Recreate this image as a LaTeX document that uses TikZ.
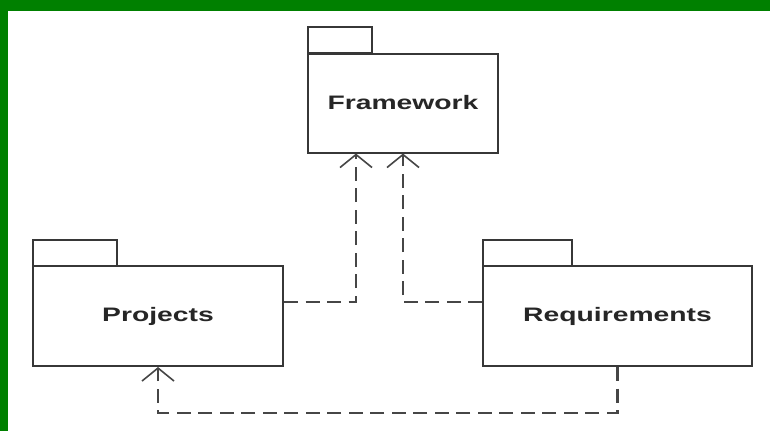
\documentclass[tikz,border=0pt]{standalone}
\usepackage{fontspec}
\usepackage{graphicx}
\setmainfont{Liberation Sans}
\usetikzlibrary{arrows.meta,calc}
\definecolor{framegreen}{RGB}{0,128,0}
\definecolor{pkgline}{RGB}{55,55,55}
\definecolor{depline}{RGB}{70,70,70}
\newcommand{\pkgtext}[1]{\scalebox{1.45}[1]{\bfseries\fontsize{19.5}{19.5}\selectfont #1}}
\begin{document}
\begin{tikzpicture}[x=1pt,y=-1pt,
  pkg/.style={draw=pkgline, line width=2pt, fill=white, rectangle,
    inner sep=0pt, text=black!85},
  tabbox/.style={draw=pkgline, line width=2pt, fill=white},
  depend/.style={draw=depline, line width=2.2pt, dash pattern=on 14pt off 7.5pt,
    -{Straight Barb[length=13pt,width=32pt,line width=1.6pt]}}]
  % background and green frame
  \fill[framegreen] (0,0) rectangle (770,431);
  \fill[white] (8,11) rectangle (770,431);
  \useasboundingbox (0,0) rectangle (770,431);

  % package tabs
  \draw[tabbox] (308,27) rectangle (372,53);
  \draw[tabbox] (33,240) rectangle (117,266);
  \draw[tabbox] (483,240) rectangle (572,266);

  % package bodies
  \node[pkg, minimum width=190pt, minimum height=99pt] (fw) at (403,103) {\pkgtext{Framework}};
  \node[pkg, minimum width=250pt, minimum height=100pt] (proj) at (158,316) {\pkgtext{Projects}};
  \node[pkg, minimum width=269pt, minimum height=100pt] (req) at (617.5,316) {\pkgtext{Requirements}};

  % dependencies
  \draw[depend] ([yshift=14pt]proj.east) -| ([xshift=-47pt]fw.south);
  \draw[depend] ([yshift=14pt]req.west) -| (fw.south);
  \draw[depend] (req.south) -- ++(0,46) -| (proj.south);
\end{tikzpicture}
\end{document}
